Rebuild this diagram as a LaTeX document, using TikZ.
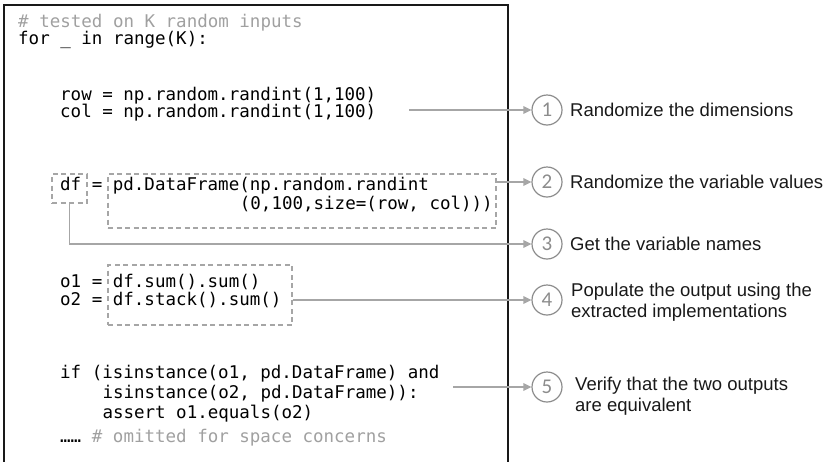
\documentclass[tikz,border=0pt]{standalone}
\usepackage{fontspec}
\setmainfont{Liberation Sans}
\setmonofont{DejaVu Sans Mono}
\newfontfamily\numfont{Carlito}
\usetikzlibrary{arrows.meta}
\definecolor{codegray}{HTML}{A0A0A0}
\definecolor{linegray}{HTML}{A6A6A6}
\definecolor{circgray}{HTML}{8C8C8C}
\tikzset{
  code/.style={anchor=mid west, inner sep=0pt, font=\fontsize{17.5}{17.5}\selectfont\ttfamily},
  cmt/.style={code, text=codegray},
  dbox/.style={draw=linegray, dash pattern=on 5pt off 3.5pt, line width=1.3pt, inner sep=0pt},
  conn/.style={draw=linegray, line width=1.8pt, -{Triangle[length=8pt,width=7.5pt]}},
  numc/.style={circle, draw=circgray, line width=1.2pt, minimum size=30pt, inner sep=0pt, text=circgray, font=\numfont\fontsize{21}{21}\selectfont},
  lbl/.style={anchor=west, inner sep=0pt, align=left, font=\fontsize{18.5}{21}\selectfont, text=black!90}
}
\begin{document}
\begin{tikzpicture}[x=1pt, y=-1pt]
\useasboundingbox (0,0) rectangle (826,461);
% frame
\draw[line width=1.7pt, black!90] (4,463) -- (4,5) -- (508,5) -- (508,463);
% code
\node[cmt] (t1) at (18,25) {\# tested on K random inputs};
\node[code] (t2) at (18,42) {for \_ in range(K):};
\node[code] (t3) at (60,98) {row = np.random.randint(1,100)};
\node[code] (t4) at (60,115) {col = np.random.randint(1,100)};
\node[code] (t5) at (60,188) {df = pd.DataFrame(np.random.randint};
\node[code] (t6) at (239.7,207) {(0,100,size=(row, col)))};
\node[code] (t7) at (60,285) {o1 = df.sum().sum()};
\node[code] (t8) at (60,303) {o2 = df.stack().sum()};
\node[code] (t9) at (60,376) {if (isinstance(o1, pd.DataFrame) and};
\node[code] (t10) at (102.3,396) {isinstance(o2, pd.DataFrame)):};
\node[code] (t11) at (102.3,416) {assert o1.equals(o2)};
\node[code] (t12) at (60,440) {……};
\node[cmt] (t13) at (91.7,440) {\# omitted for space concerns};
% dashed boxes
\node[dbox, minimum width=35pt, minimum height=29pt] (dfbox) at (69.5,188.5) {};
\node[dbox, minimum width=388pt, minimum height=54pt] (valbox) at (302,201) {};
\node[dbox, minimum width=184pt, minimum height=60pt] (obox) at (200,295) {};
% circles
\node[numc] (c1) at (547,110) {1};
\node[numc] (c2) at (547,182) {2};
\node[numc] (c3) at (547,244) {3};
\node[numc] (c4) at (547,300) {4};
\node[numc] (c5) at (547,387) {5};
% labels
\node[lbl] (l1) at (570,110) {Randomize the dimensions};
\node[lbl] (l2) at (570,182) {Randomize the variable values};
\node[lbl] (l3) at (570,244) {Get the variable names};
\node[lbl] (l4) at (571,302) {Populate the output using the\\extracted implementations};
\node[lbl] (l5) at (575,396) {Verify that the two outputs\\are equivalent};
% connectors
\coordinate (s1) at (409,110);
\coordinate (s5) at (453,387);
\draw[conn] (s1) -- (c1);
\draw[conn] (valbox.east |- c2) -- (c2);
\draw[conn] (dfbox.south) |- (c3);
\draw[conn] (obox.east |- c4) -- (c4);
\draw[conn] (s5) -- (c5);
\end{tikzpicture}
\end{document}
